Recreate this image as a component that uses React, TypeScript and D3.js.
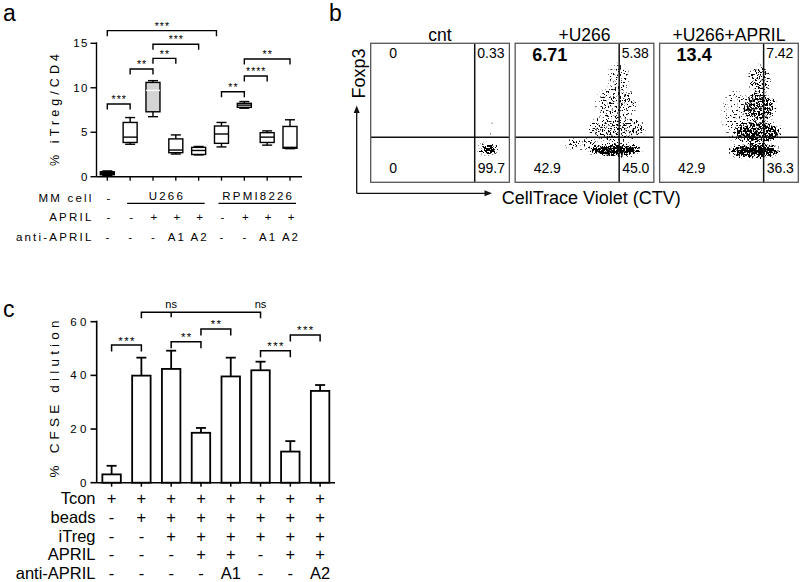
import React from 'react';
import * as d3 from 'd3';

const FONT = "'Liberation Sans', Arial, Helvetica, sans-serif";

// ---------- Panel a : % iTreg/CD4 box plots ----------
const groupsA = ['none', 'U266', 'U266+APRIL', 'U266+APRIL+A1', 'U266+APRIL+A2', 'RPMI8226', 'RPMI8226+APRIL', 'RPMI8226+APRIL+A1', 'RPMI8226+APRIL+A2'];
const whiskerLowA = [0.15, 3.65, 6.75, 2.55, 2.45, 3.35, 7.7, 3.55, 3.15];
const q1A = [0.22, 3.85, 7.3, 2.7, 2.5, 3.75, 7.8, 3.85, 3.2];
const medianA = [0.4, 4.45, 9.7, 3.0, 2.95, 4.8, 8.05, 4.45, 3.3];
const q3A = [0.55, 6.1, 10.6, 4.25, 3.3, 5.7, 8.25, 4.95, 5.65];
const whiskerHighA = [0.65, 6.65, 10.8, 4.7, 3.4, 6.1, 8.45, 5.15, 6.4];
const ticksA = [0, 5, 10, 15];
const mmCellA = ['-', '', '', '', '', '', '', '', ''];
const cellLinesA = ['U266', 'RPMI8226'];
const cellLineFromA = [1, 5];
const cellLineToA = [4, 8];
const aprilA = ['-', '-', '+', '+', '+', '-', '+', '+', '+'];
const antiAprilA = ['-', '-', '-', 'A1', 'A2', '-', '-', 'A1', 'A2'];
const rowLabelsA = ['MM cell', 'APRIL', 'anti-APRIL'];
const bracketFromA = [0, 2, 2, 1, 0, 5, 6, 6];
const bracketToA = [4.78, 4, 3, 2, 1, 6, 7, 8];
const bracketLevelA = [16.42, 14.89, 13.31, 12.11, 8.17, 9.56, 11.32, 13.23];
const bracketLabelA = ['***', '***', '**', '**', '***', '**', '****', '**'];

// ---------- Panel b : flow cytometry ----------
const flowTitles = ['cnt', '+U266', '+U266+APRIL'];
const quadUL = ['0', '6.71', '13.4'];
const quadUR = ['0.33', '5.38', '7.42'];
const quadLL = ['0', '42.9', '42.9'];
const quadLR = ['99.7', '45.0', '36.3'];
const quadULBold = [false, true, true];
const gateCTV = 0.75;
const gateFoxp3 = 0.325;
// event clouds: [CTV, Foxp3, spread CTV, spread Foxp3, density]
const cloudsCnt = [
  [0.848, 0.24, 0.062, 0.028, 1],
  [0.85, 0.24, 0.035, 0.018, 1],
];
const cloudsU266 = [
  [0.72, 0.232, 0.18, 0.038, 1],
  [0.74, 0.232, 0.1, 0.026, 1],
  [0.476, 0.276, 0.11, 0.036, 0.32],
  [0.73, 0.39, 0.2, 0.086, 0.4],
  [0.73, 0.57, 0.144, 0.108, 0.3],
  [0.745, 0.75, 0.072, 0.1, 0.24],
];
const cloudsApril = [
  [0.685, 0.227, 0.175, 0.043, 1],
  [0.7, 0.23, 0.11, 0.03, 1],
  [0.707, 0.361, 0.166, 0.072, 0.74],
  [0.714, 0.541, 0.115, 0.1, 0.62],
  [0.721, 0.736, 0.072, 0.1, 0.45],
  [0.541, 0.484, 0.087, 0.18, 0.18],
];
const strayCnt = [[0.872, 0.429], [0.86, 0.352]];
const cloudSets = [cloudsCnt, cloudsU266, cloudsApril];

// ---------- Panel c : % CFSE dilution ----------
const cfseMean = [3.1, 39.9, 42.4, 18.6, 39.6, 41.9, 11.6, 34.2];
const cfseSem = [3.2, 6.7, 6.8, 1.8, 7.0, 3.2, 3.9, 2.2];
const ticksC = [0, 20, 40, 60];
const rowLabelsC = ['Tcon', 'beads', 'iTreg', 'APRIL', 'anti-APRIL'];
const tconC = ['+', '+', '+', '+', '+', '+', '+', '+'];
const beadsC = ['-', '+', '+', '+', '+', '+', '+', '+'];
const itregC = ['-', '-', '+', '+', '+', '+', '+', '+'];
const aprilC = ['-', '-', '-', '+', '+', '-', '+', '+'];
const antiAprilC = ['-', '-', '-', '-', 'A1', '-', '-', 'A2'];
const rowsC = [tconC, beadsC, itregC, aprilC, antiAprilC];
const bracketFromC = [0, 2, 3, 5, 6];
const bracketToC = [1, 3, 4, 6, 7];
const bracketLevelC = [51.3, 52.55, 57.3, 49.2, 55.05];
const bracketLabelC = ['***', '**', '**', '***', '***'];
const nsFrom = 1;
const nsMid = 2;
const nsTo = 5;
const nsLevel = 63.5;
const nsLabelAt = [2, 5];

export default function App() {
  const xA = d3.scaleLinear().domain([0, groupsA.length - 1]).range([107.3, 290]);
  const yA = d3.scaleLinear().domain([0, 15]).range([176.7, 43.3]);
  const xC = d3.scaleBand<number>().domain(d3.range(cfseMean.length)).range([96.7, 335]).paddingInner(0.38).paddingOuter(0.19);
  const cC = (i: number) => (xC(i) as number) + xC.bandwidth() / 2;
  const yC = d3.scaleLinear().domain([0, 60]).range([482.7, 321.7]);
  const flowX = d3.scaleBand<string>().domain(flowTitles).range([370.7, 798.3]).paddingInner(0.04);
  const flowY = d3.scaleLinear().domain([0, 1]).range([182.3, 43.3]);
  const bw = flowX.bandwidth();

  const boxHalf = 7;
  const capHalf = 5;
  const boxFill = (i: number) => (i === 2 ? '#d4d4d4' : i === 0 ? '#111' : '#fff');

  return (
    <svg width={800} height={582} style={{ position: 'absolute', left: 0, top: 0, background: '#fff' }} fontFamily={FONT}>
      <rect x={0} y={0} width={800} height={582} fill="#fff" />
      <defs>
        {flowTitles.map((t, p) => {
          const left = flowX(t) as number;
          return (
            <filter key={t} id={`stip${p}`} filterUnits="userSpaceOnUse" x={left} y={43.3} width={bw} height={139} colorInterpolationFilters="sRGB">
              <feGaussianBlur in="SourceAlpha" stdDeviation={2} result="d" />
              <feTurbulence type="fractalNoise" baseFrequency="0.613 0.537" numOctaves={3} seed={11 + p * 7} result="t" />
              <feComponentTransfer in="t" result="t2">
                <feFuncR type="linear" slope={2.5} intercept={-0.75} />
              </feComponentTransfer>
              <feColorMatrix in="t2" type="matrix" values="0 0 0 0 0  0 0 0 0 0  0 0 0 0 0  1 0 0 0 0" result="n" />
              <feComposite in="d" in2="n" operator="arithmetic" k1={0} k2={6} k3={-6} k4={-0.05} result="s" />
              <feColorMatrix in="s" type="matrix" values="0 0 0 0 0  0 0 0 0 0  0 0 0 0 0  0 0 0 1 0" />
            </filter>
          );
        })}
      </defs>

      {/* ================= Panel a ================= */}
      <text x={3} y={21} fontSize={23}>a</text>
      <line x1={96.5} x2={96.5} y1={yA(15) - 1} y2={yA(0)} stroke="#000" strokeWidth={1.4} />
      {ticksA.map((t) => (
        <g key={t}>
          <line x1={90.5} x2={96.5} y1={yA(t)} y2={yA(t)} stroke="#000" strokeWidth={1.4} />
          <text x={89} y={yA(t) + 4} fontSize={11.5} textAnchor="end" style={{ letterSpacing: '1.5px' }}>{t}</text>
        </g>
      ))}
      <text transform={`translate(59,110) rotate(-90)`} fontSize={12.5} textAnchor="middle" textLength={112} lengthAdjust="spacing">% iTreg/CD4</text>
      <line x1={96.5} x2={302} y1={yA(0)} y2={yA(0)} stroke="#000" strokeWidth={1.4} />
      {groupsA.map((g, i) => (
        <line key={g} x1={xA(i)} x2={xA(i)} y1={yA(0)} y2={yA(0) + 4} stroke="#000" strokeWidth={1.3} />
      ))}
      {groupsA.map((g, i) => {
        const x = xA(i);
        return (
          <g key={g} stroke="#000" strokeWidth={1.4}>
            <line x1={x} x2={x} y1={yA(whiskerHighA[i])} y2={yA(q3A[i])} />
            <line x1={x} x2={x} y1={yA(q1A[i])} y2={yA(whiskerLowA[i])} />
            <line x1={x - capHalf} x2={x + capHalf} y1={yA(whiskerHighA[i])} y2={yA(whiskerHighA[i])} />
            <line x1={x - capHalf} x2={x + capHalf} y1={yA(whiskerLowA[i])} y2={yA(whiskerLowA[i])} />
            <rect x={x - boxHalf} width={boxHalf * 2} y={yA(q3A[i])} height={yA(q1A[i]) - yA(q3A[i])} fill={boxFill(i)} />
            <line x1={x - boxHalf} x2={x + boxHalf} y1={yA(medianA[i])} y2={yA(medianA[i])} stroke={i === 2 ? '#fff' : '#000'} />
          </g>
        );
      })}
      {bracketLabelA.map((lab, k) => {
        const x1 = xA(bracketFromA[k]);
        const x2 = xA(bracketToA[k]);
        const y = yA(bracketLevelA[k]);
        return (
          <g key={k}>
            <path d={`M${x1},${y + 5.5}V${y}H${x2}V${y + 5.5}`} fill="none" stroke="#000" strokeWidth={1.4} />
            <text x={(x1 + x2) / 2 + 0.5} y={y - 0.8} fontSize={10.5} textAnchor="middle" style={{ letterSpacing: '1px' }}>{lab}</text>
          </g>
        );
      })}
      {rowLabelsA.map((r, k) => (
        <text key={r} x={93.5} y={201.7 + k * 19.6} fontSize={11.5} textAnchor="end" style={{ letterSpacing: '2.2px' }}>{r}</text>
      ))}
      {mmCellA.map((v, i) => v ? <text key={i} x={xA(i) + 1} y={201.7} fontSize={11.5} textAnchor="middle">{v}</text> : null)}
      {cellLinesA.map((c, k) => {
        const a = xA(cellLineFromA[k]) - 3;
        const b = xA(cellLineToA[k]) + 6;
        return (
          <g key={c}>
            <text x={(a + b) / 2 + 1} y={199.5} fontSize={11.5} textAnchor="middle" style={{ letterSpacing: '2.2px' }}>{c}</text>
            <line x1={a} x2={b} y1={203.3} y2={203.3} stroke="#000" strokeWidth={1.3} />
          </g>
        );
      })}
      {aprilA.map((v, i) => <text key={i} x={xA(i) + 1} y={221.3} fontSize={11.5} textAnchor="middle">{v}</text>)}
      {antiAprilA.map((v, i) => <text key={i} x={xA(i) + 1} y={240.9} fontSize={11.5} textAnchor="middle" style={{ letterSpacing: '2px' }}>{v}</text>)}

      {/* ================= Panel b ================= */}
      <text x={329} y={21} fontSize={23}>b</text>
      {flowTitles.map((t, p) => {
        const left = flowX(t) as number;
        const fx = d3.scaleLinear().domain([0, 1]).range([left, left + bw]);
        const clouds = cloudSets[p];
        return (
          <g key={t}>
            <text x={left + bw / 2} y={41} fontSize={17.5} textAnchor="middle">{t}</text>
            <g filter={`url(#stip${p})`}>
              {clouds.map((c, j) => (
                <ellipse key={j} cx={fx(c[0])} cy={flowY(c[1])} rx={c[2] * bw} ry={c[3] * 139} fill="#000" fillOpacity={c[4]} />
              ))}
            </g>
            {p === 0 && strayCnt.map((s, j) => (
              <rect key={j} x={fx(s[0])} y={flowY(s[1])} width={1} height={1} fill="#444" />
            ))}
            <line x1={fx(gateCTV)} x2={fx(gateCTV)} y1={flowY(1)} y2={flowY(0)} stroke="#111" strokeWidth={1.5} />
            <line x1={left} x2={left + bw} y1={flowY(gateFoxp3)} y2={flowY(gateFoxp3)} stroke="#111" strokeWidth={1.5} />
            <rect x={left} y={flowY(1)} width={bw} height={flowY(0) - flowY(1)} fill="none" stroke="#555" strokeWidth={1.3} />
            <text x={left + (p === 0 ? 18.6 : 17)} y={p === 0 ? 58.3 : 60.7} fontSize={quadULBold[p] ? 18 : 14} fontWeight={quadULBold[p] ? 'bold' : 'normal'}>{quadUL[p]}</text>
            <text x={fx(gateCTV) + 2.5} y={57.8} fontSize={14}>{quadUR[p]}</text>
            <text x={left + (p === 0 ? 18.6 : 18.5)} y={173.3} fontSize={14}>{quadLL[p]}</text>
            <text x={fx(gateCTV) + 3} y={173.3} fontSize={14}>{quadLR[p]}</text>
          </g>
        );
      })}
      <path d="M356.7,193.3V112" stroke="#111" strokeWidth={1.3} fill="none" />
      <path d="M356.7,105.5L353.7,113L359.7,113Z" fill="#111" />
      <path d="M356.7,193.3H485" stroke="#111" strokeWidth={1.3} fill="none" />
      <path d="M492,193.3L484.5,190.3L484.5,196.3Z" fill="#111" />
      <text transform="translate(364.5,73.5) rotate(-90)" fontSize={18} textAnchor="middle">Foxp3</text>
      <text x={501.7} y={203.5} fontSize={18}>CellTrace Violet (CTV)</text>

      {/* ================= Panel c ================= */}
      <text x={3} y={317} fontSize={23}>c</text>
      <line x1={96.7} x2={96.7} y1={yC(60) - 1} y2={yC(0)} stroke="#000" strokeWidth={1.6} />
      {ticksC.map((t) => (
        <g key={t}>
          <line x1={90.5} x2={96.7} y1={yC(t)} y2={yC(t)} stroke="#000" strokeWidth={1.6} />
          <text x={90} y={yC(t) + 4} fontSize={11.5} textAnchor="end" style={{ letterSpacing: '3.5px' }}>{t}</text>
        </g>
      ))}
      <text transform="translate(59,399) rotate(-90)" fontSize={13.5} textAnchor="middle" textLength={157} lengthAdjust="spacing">% CFSE dilution</text>
      <line x1={96.7} x2={335} y1={yC(0)} y2={yC(0)} stroke="#000" strokeWidth={1.6} />
      {cfseMean.map((v, i) => (
        <line key={i} x1={cC(i)} x2={cC(i)} y1={yC(0)} y2={yC(0) + 4} stroke="#000" strokeWidth={1.5} />
      ))}
      {cfseMean.map((v, i) => (
        <g key={i} stroke="#000" strokeWidth={1.8}>
          <line x1={cC(i)} x2={cC(i)} y1={yC(v)} y2={yC(v + cfseSem[i])} />
          <line x1={cC(i) - 5} x2={cC(i) + 5} y1={yC(v + cfseSem[i])} y2={yC(v + cfseSem[i])} />
          <rect x={xC(i)} y={yC(v)} width={xC.bandwidth()} height={yC(0) - yC(v)} fill="#fff" />
        </g>
      ))}
      {bracketLabelC.map((lab, k) => {
        const x1 = cC(bracketFromC[k]);
        const x2 = cC(bracketToC[k]);
        const y = yC(bracketLevelC[k]);
        return (
          <g key={k}>
            <path d={`M${x1},${y + 6.5}V${y}H${x2}V${y + 6.5}`} fill="none" stroke="#000" strokeWidth={1.5} />
            <text x={(x1 + x2) / 2 + 0.7} y={y - 0.5} fontSize={11.5} textAnchor="middle" style={{ letterSpacing: '1.4px' }}>{lab}</text>
          </g>
        );
      })}
      {(() => {
        const y = yC(nsLevel);
        return (
          <g>
            <path d={`M${cC(nsFrom)},${y + 6}V${y}H${cC(nsTo)}V${y + 6}M${cC(nsMid)},${y}V${y + 5}`} fill="none" stroke="#000" strokeWidth={1.5} />
            {nsLabelAt.map((b) => (
              <text key={b} x={cC(b)} y={y - 4} fontSize={11} textAnchor="middle">ns</text>
            ))}
          </g>
        );
      })()}
      {rowLabelsC.map((r, k) => (
        <g key={r}>
          <text x={95.5} y={504 + k * 18.8} fontSize={16.5} textAnchor="end">{r}</text>
          {rowsC[k].map((v, i) => (
            <text key={i} x={cC(i)} y={504 + k * 18.8} fontSize={16.5} textAnchor="middle">{v}</text>
          ))}
        </g>
      ))}
    </svg>
  );
}
